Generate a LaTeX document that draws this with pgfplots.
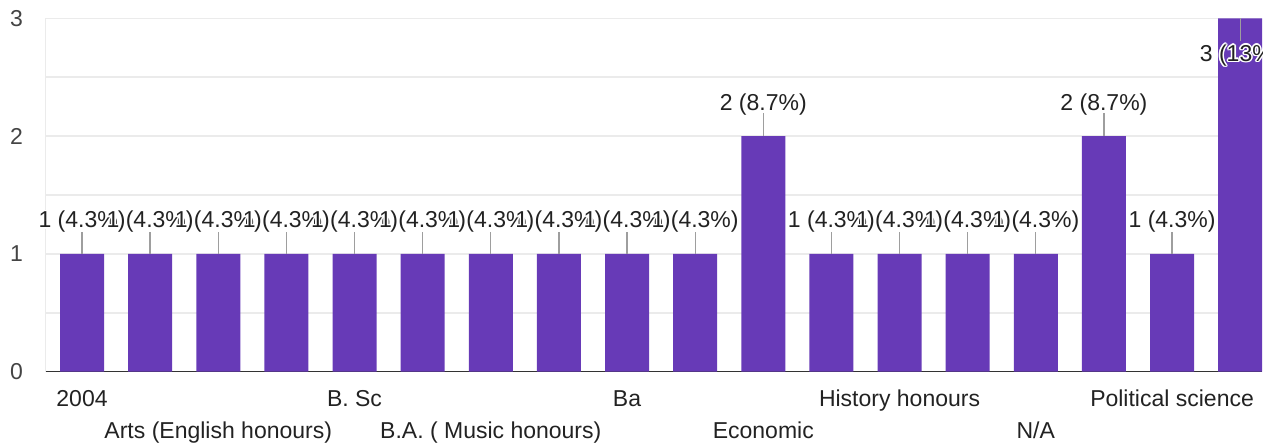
\documentclass[border=0pt]{standalone}
\usepackage{pgfplots}
\usepackage{pgfplotstable}
\pgfplotsset{compat=1.18}
\usepackage{fontspec}
\setmainfont{Liberation Sans}
\definecolor{barpurple}{HTML}{673AB7}
\definecolor{gridgray}{HTML}{EBEBEB}
\definecolor{axisdark}{HTML}{333333}
\definecolor{linegray}{HTML}{9E9E9E}
\definecolor{labeldark}{HTML}{222222}
\definecolor{ticklab}{HTML}{444444}

\newcommand\halotxt[1]{%
  \setbox0=\hbox{#1}%
  \rlap{\color{white}%
    \rlap{\kern-1.6pt\copy0}%
    \rlap{\kern1.6pt\copy0}%
    \rlap{\raise1.6pt\copy0}%
    \rlap{\lower1.6pt\copy0}%
    \rlap{\kern-1.13pt\raise1.13pt\copy0}%
    \rlap{\kern1.13pt\raise1.13pt\copy0}%
    \rlap{\kern-1.13pt\lower1.13pt\copy0}%
    \rlap{\kern1.13pt\lower1.13pt\copy0}%
  }%
  \box0}

\pgfplotstableread[col sep=comma]{
x,y
0,1
1,1
2,1
3,1
4,1
5,1
6,1
7,1
8,1
9,1
10,2
11,1
12,1
13,1
14,1
15,2
16,1
17,3
}\bars

\pgfplotstableread[col sep=comma]{
x,y,err,lab
0,1,0.187,1 (4.3\%)
1,1,0.187,1 (4.3\%)
2,1,0.187,1 (4.3\%)
3,1,0.187,1 (4.3\%)
4,1,0.187,1 (4.3\%)
5,1,0.187,1 (4.3\%)
6,1,0.187,1 (4.3\%)
7,1,0.187,1 (4.3\%)
8,1,0.187,1 (4.3\%)
9,1,0.187,1 (4.3\%)
10,2,0.195,2 (8.7\%)
11,1,0.187,1 (4.3\%)
12,1,0.187,1 (4.3\%)
13,1,0.187,1 (4.3\%)
14,1,0.187,1 (4.3\%)
15,2,0.195,2 (8.7\%)
16,1,0.187,1 (4.3\%)
}\labelsA

\pgfplotstableread[col sep=comma]{
x,y,err,lab
17,3,0.195,3 (13\%)
}\labelsB

\begin{document}
\begin{tikzpicture}
\useasboundingbox (0,0) rectangle (1279pt,445pt);
\begin{scope}
\clip (0,0) rectangle (1262pt,445pt);
\begin{axis}[
  at={(45.7pt,73.3pt)}, anchor=south west,
  scale only axis, width=1216.3pt, height=353.4pt,
  xmin=-0.533, xmax=17.32, ymin=0, ymax=3,
  clip=false,
  axis x line=bottom, axis y line=left,
  x axis line style={draw=axisdark, line width=1.5pt, -},
  y axis line style={draw=gridgray, line width=1.5pt, -},
  ytick={0,1,2,3}, minor ytick={0.5,1.5,2.5},
  ymajorgrids, yminorgrids,
  major grid style={draw=gridgray, line width=1.5pt},
  minor grid style={draw=gridgray, line width=1.5pt},
  major tick length=0pt, minor tick length=0pt,
  tick style={draw=none},
  xtick={0,4,8,12,16},
  xticklabels={2004,B. Sc,Ba,History honours,Political science},
  extra x ticks={2,6,10,14},
  extra x tick labels={Arts (English honours),B.A. ( Music honours),Economic,N/A},
  extra x tick style={xticklabel style={yshift=-31.3pt}},
  xticklabel style={anchor=base, inner sep=0pt, yshift=-35pt, text=labeldark, font=\fontsize{23}{27}\selectfont},
  yticklabel style={anchor=east, inner sep=0pt, xshift=-22.7pt, text=ticklab, font=\fontsize{23}{27}\selectfont},
  /pgf/number format/assume math mode=true,
]
\addplot[ybar, bar width=44pt, bar shift=0pt, fill=barpurple, draw=none] table[x=x,y=y]{\bars};

\addplot[draw=none, mark=none,
  point meta=explicit symbolic,
  nodes near coords={\halotxt{\pgfplotspointmeta}},
  every node near coord/.append style={anchor=base, inner sep=0pt, yshift=26pt, text=labeldark, font=\fontsize{23}{27}\selectfont},
  error bars/y dir=plus, error bars/y explicit, error bars/error mark=none,
  error bars/error bar style={draw=linegray, line width=1.3pt}]
  table[x=x, y=y, y error=err, meta=lab]{\labelsA};

\addplot[draw=none, mark=none,
  point meta=explicit symbolic,
  nodes near coords={\halotxt{\pgfplotspointmeta}},
  every node near coord/.append style={anchor=base, inner sep=0pt, yshift=-43pt, text=labeldark, font=\fontsize{23}{27}\selectfont},
  error bars/y dir=minus, error bars/y explicit, error bars/error mark=none,
  error bars/error bar style={draw=linegray, line width=1.3pt}]
  table[x=x, y=y, y error=err, meta=lab]{\labelsB};
\end{axis}
\end{scope}
\end{tikzpicture}
\end{document}
